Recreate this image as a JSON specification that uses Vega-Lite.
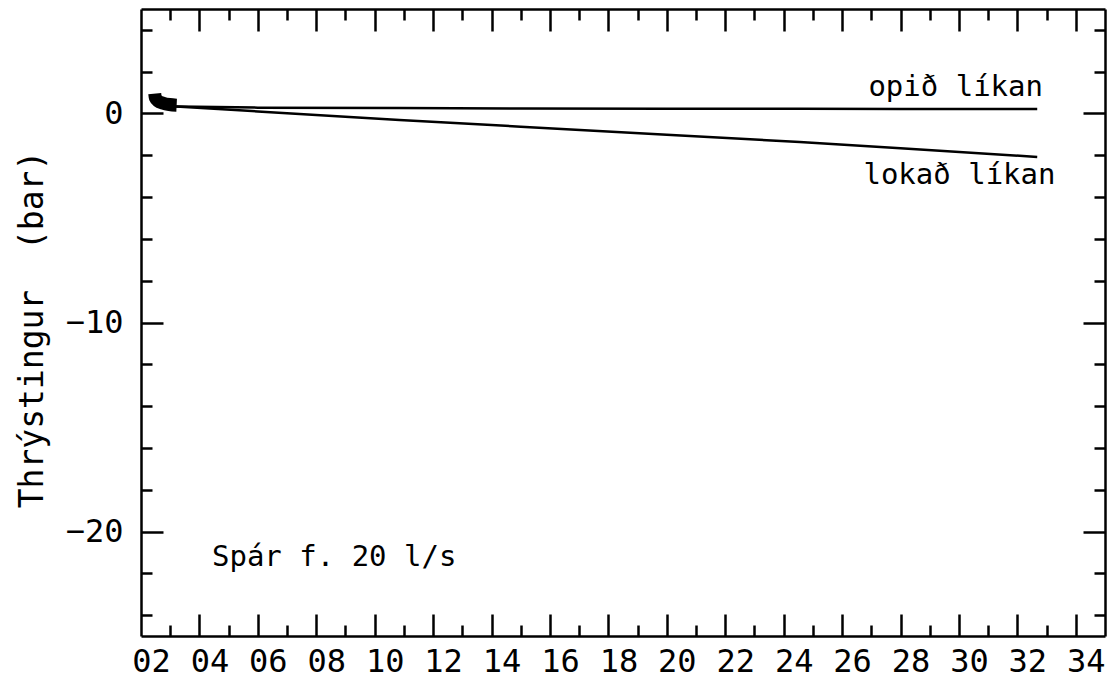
{
  "$schema": "https://vega.github.io/schema/vega-lite/v6.json",
  "width": 964,
  "height": 627,
  "autosize": "none",
  "padding": {"left": 141, "top": 9, "right": 9, "bottom": 41},
  "background": "white",
  "config": {
    "view": {"stroke": null},
    "axis": {
      "grid": false,
      "domainColor": "black",
      "domainWidth": 2.5,
      "tickColor": "black",
      "tickWidth": 2.5,
      "labelColor": "black",
      "labelFont": "DejaVu Sans Mono",
      "labelFontSize": 32,
      "titleColor": "black",
      "titleFont": "DejaVu Sans Mono",
      "titleFontWeight": "normal",
      "titleFontSize": 33
    }
  },
  "datasets": {
    "curves": [
      {"model": "opið", "x": 3.2, "y": 0.33},
      {"model": "opið", "x": 6, "y": 0.28},
      {"model": "opið", "x": 10.85, "y": 0.26},
      {"model": "opið", "x": 15, "y": 0.24},
      {"model": "opið", "x": 20, "y": 0.23},
      {"model": "opið", "x": 24.55, "y": 0.23},
      {"model": "opið", "x": 28, "y": 0.22},
      {"model": "opið", "x": 32.68, "y": 0.21},
      {"model": "lokað", "x": 3.2, "y": 0.33},
      {"model": "lokað", "x": 6, "y": 0.1},
      {"model": "lokað", "x": 10.85, "y": -0.31},
      {"model": "lokað", "x": 15, "y": -0.63},
      {"model": "lokað", "x": 20, "y": -1.02},
      {"model": "lokað", "x": 24.55, "y": -1.36},
      {"model": "lokað", "x": 28, "y": -1.66},
      {"model": "lokað", "x": 32.68, "y": -2.08}
    ],
    "measured": [
      {"x": 2.47, "y": 0.95},
      {"x": 2.49, "y": 0.75},
      {"x": 2.58, "y": 0.6},
      {"x": 2.75, "y": 0.5},
      {"x": 2.97, "y": 0.43},
      {"x": 3.22, "y": 0.4}
    ],
    "labels": [
      {"x": 26.9, "y": 1.27, "text": "opið líkan"},
      {"x": 26.73, "y": -2.94, "text": "lokað líkan"},
      {"x": 4.43, "y": -21.2, "text": "Spár f. 20 l/s"}
    ]
  },
  "layer": [
    {
      "data": {"name": "curves"},
      "mark": {"type": "line", "color": "black", "strokeWidth": 2.5},
      "encoding": {
        "x": {
          "field": "x", "type": "quantitative",
          "scale": {"domain": [2, 35], "nice": false, "zero": false},
          "axis": {
            "orient": "top", "offset": -627, "title": null, "labels": false, "domain": true,
            "values": [4,6,8,10,12,14,16,18,20,22,24,26,28,30,32,34],
            "tickSize": 22
          }
        },
        "y": {
          "field": "y", "type": "quantitative",
          "scale": {"domain": [-25, 5], "nice": false, "zero": false},
          "axis": {
            "orient": "right", "offset": -964, "title": null, "labels": false, "domain": true,
            "values": [-20, -10, 0],
            "tickSize": 22
          }
        },
        "detail": {"field": "model", "type": "nominal"}
      }
    },
    {
      "data": {"name": "measured"},
      "mark": {"type": "line", "color": "black", "strokeWidth": 13, "strokeCap": "butt", "interpolate": "monotone"},
      "encoding": {
        "x": {
          "field": "x", "type": "quantitative",
          "scale": {"domain": [2, 35], "nice": false, "zero": false},
          "axis": {
            "orient": "bottom", "offset": -627, "title": null, "labels": false, "domain": true,
            "values": [4,6,8,10,12,14,16,18,20,22,24,26,28,30,32,34],
            "tickSize": 22
          }
        },
        "y": {
          "field": "y", "type": "quantitative",
          "scale": {"domain": [-25, 5], "nice": false, "zero": false},
          "axis": {
            "orient": "left", "offset": -964, "title": null, "labels": false, "domain": true,
            "values": [-20, -10, 0],
            "tickSize": 22
          }
        }
      }
    },
    {
      "data": {"name": "curves"},
      "mark": {"type": "line", "color": "black", "strokeWidth": 2.5, "opacity": 0},
      "encoding": {
        "x": {
          "field": "x", "type": "quantitative",
          "scale": {"domain": [2, 35], "nice": false, "zero": false},
          "axis": {
            "orient": "top", "offset": -627, "title": null, "labels": false, "domain": false,
            "values": [3,5,7,9,11,13,15,17,19,21,23,25,27,29,31,33],
            "tickSize": 11
          }
        },
        "y": {
          "field": "y", "type": "quantitative",
          "scale": {"domain": [-25, 5], "nice": false, "zero": false},
          "axis": {
            "orient": "right", "offset": -964, "title": null, "labels": false, "domain": false,
            "values": [-24,-22,-18,-16,-14,-12,-8,-6,-4,-2,2,4],
            "tickSize": 11
          }
        },
        "detail": {"field": "model", "type": "nominal"}
      }
    },
    {
      "data": {"name": "measured"},
      "mark": {"type": "line", "color": "black", "strokeWidth": 2, "opacity": 0},
      "encoding": {
        "x": {
          "field": "x", "type": "quantitative",
          "scale": {"domain": [2, 35], "nice": false, "zero": false},
          "axis": {
            "orient": "bottom", "offset": -627, "title": null, "labels": false, "domain": false,
            "values": [3,5,7,9,11,13,15,17,19,21,23,25,27,29,31,33],
            "tickSize": 11
          }
        },
        "y": {
          "field": "y", "type": "quantitative",
          "scale": {"domain": [-25, 5], "nice": false, "zero": false},
          "axis": {
            "orient": "left", "offset": -964, "title": null, "labels": false, "domain": false,
            "values": [-24,-22,-18,-16,-14,-12,-8,-6,-4,-2,2,4],
            "tickSize": 11
          }
        }
      }
    },
    {
      "data": {"name": "labels"},
      "mark": {"type": "text", "align": "left", "baseline": "middle", "font": "DejaVu Sans Mono", "fontSize": 29, "color": "black"},
      "encoding": {
        "x": {
          "field": "x", "type": "quantitative",
          "scale": {"domain": [2, 35], "nice": false, "zero": false},
          "axis": {
            "orient": "bottom", "title": null, "ticks": false, "domain": false,
            "values": [2,4,6,8,10,12,14,16,18,20,22,24,26,28,30,32,34],
            "labelExpr": "datum.value < 10 ? '0' + datum.value : '' + datum.value",
            "labelPadding": 10, "labelOffset": 10, "labelFlush": false, "labelOverlap": false, "labelBound": false
          }
        },
        "y": {
          "field": "y", "type": "quantitative",
          "scale": {"domain": [-25, 5], "nice": false, "zero": false},
          "axis": {
            "orient": "left", "title": "Thrýstingur\u00a0 (bar)", "ticks": false, "domain": false,
            "values": [-20, -10, 0],
            "labelPadding": 18, "labelFlush": false, "labelOverlap": false, "labelBound": false,
            "titleX": -99, "titleY": 320, "titleAngle": -90, "titleAlign": "center", "titleBaseline": "alphabetic"
          }
        },
        "text": {"field": "text", "type": "nominal"}
      }
    }
  ],
  "resolve": {"axis": {"x": "independent", "y": "independent"}}
}
